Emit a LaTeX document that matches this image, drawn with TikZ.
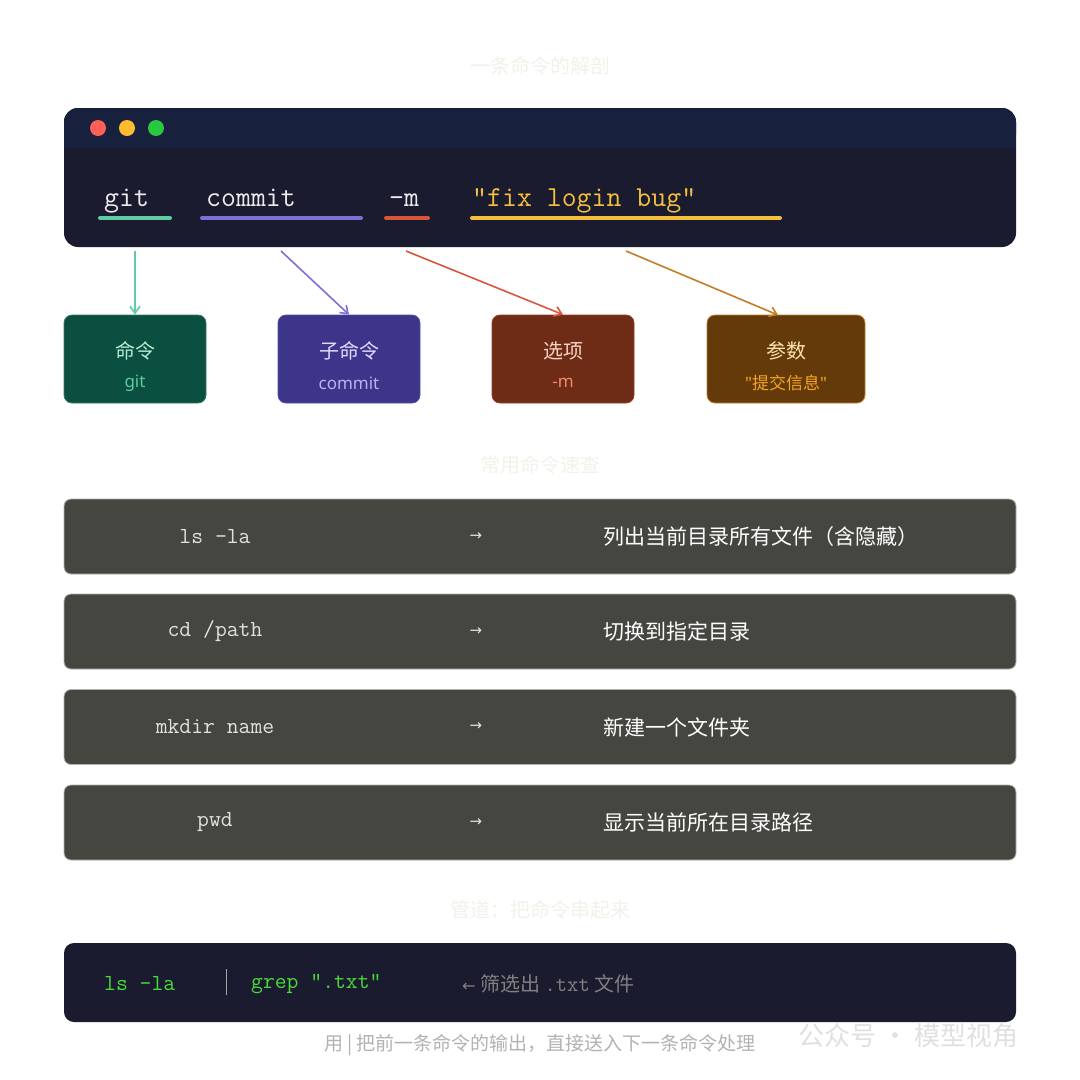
\documentclass[tikz,border=0pt]{standalone}
\usepackage{fontspec}
\setmainfont{Noto Sans CJK SC}
\newfontfamily\latinf{Noto Sans}
\newfontfamily\symf{DejaVu Sans}
\usetikzlibrary{arrows.meta}
\definecolor{termhead}{HTML}{17213D}
\definecolor{termbody}{HTML}{1B1B2F}
\definecolor{cg}{HTML}{5ECBA2}
\definecolor{cp}{HTML}{7B72D9}
\definecolor{cr}{HTML}{D9553A}
\definecolor{cy}{HTML}{F5BF3D}
\definecolor{cb}{HTML}{C47D28}
\definecolor{rowfill}{HTML}{464640}
\definecolor{faint}{HTML}{F2F2EA}
\definecolor{dotr}{HTML}{FE5F57}
\definecolor{doty}{HTML}{FEBC2E}
\definecolor{dotg}{HTML}{28C840}
\definecolor{f1}{HTML}{0A4F40}\definecolor{f2}{HTML}{3D358A}
\definecolor{f3}{HTML}{6E2B16}\definecolor{f4}{HTML}{653A0A}
\definecolor{t1c}{HTML}{B5ECD5}\definecolor{t2c}{HTML}{E0DCFF}
\definecolor{t3c}{HTML}{F9D4C6}\definecolor{t4c}{HTML}{FBE3B0}
\definecolor{s2c}{HTML}{B9B2F5}\definecolor{s3c}{HTML}{F08A6A}\definecolor{s4c}{HTML}{F5A623}
\definecolor{pgreen}{HTML}{4AD93A}
\tikzset{
  word/.style={font=\ttfamily\fontsize{29}{31}\selectfont, anchor=base west, inner sep=0},
  ul/.style={line width=4pt, line cap=round},
  conn/.style={line width=1.6pt, -{Straight Barb[length=7pt,width=10pt]}},
  cat/.style={rounded corners=8pt, minimum width=142pt, minimum height=88pt, line width=0.8pt},
  cattitle/.style={font=\fontsize{20}{22}\selectfont},
  catsub/.style={font=\fontsize{17}{19}\selectfont},
  row/.style={fill=rowfill, draw=black!30, rounded corners=7pt, line width=0.8pt},
  rowcmd/.style={font=\ttfamily\fontsize{23}{25}\selectfont, text=white!88!black},
  rowarr/.style={font=\symf\fontsize{15}{17}\selectfont, text=white!88!black},
  rowdesc/.style={font=\fontsize{21}{23}\selectfont, text=white, anchor=west},
  sectitle/.style={font=\fontsize{20}{22}\selectfont, text=faint}
}
\begin{document}
\begin{tikzpicture}[x=1pt,y=-1pt]
\useasboundingbox (0,0) rectangle (1080,1080);
\fill[white] (0,0) rectangle (1080,1080);
\node[sectitle] (t1) at (540,66) {一条命令的解剖};
% terminal
\fill[termbody, rounded corners=14pt] (64,108) rectangle (1016,247);
\fill[termhead, rounded corners=14pt] (64,108) rectangle (1016,148);
\fill[termhead] (64,130) rectangle (1016,148);
\fill[dotr] (98,128) circle (8pt);
\fill[doty] (127,128) circle (8pt);
\fill[dotg] (156,128) circle (8pt);
\node[word, text=white!92!black] (w1) at (104,206) {git};
\node[word, text=white!92!black] (w2) at (206,206) {commit};
\node[word, text=white!92!black] (w3) at (389,206) {-m};
\node[word, text=cy] (w4) at (472,206) {"fix login bug"};
\draw[ul, cg] (100,218) -- (170,218);
\draw[ul, cp] (202,218) -- (361,218);
\draw[ul, cr] (386,218) -- (428,218);
\draw[ul, cy] (472,218) -- (780,218);
\coordinate (s1) at (135,251); \coordinate (s2) at (281,251);
\coordinate (s3) at (406,251); \coordinate (s4) at (626,251);
% categories
\node[cat, fill=f1, draw=cg!60!black] (c1) at (135,359) {};
\node[cat, fill=f2, draw=cp!70!black] (c2) at (349,359) {};
\node[cat, fill=f3, draw=cr!70!black] (c3) at (563,359) {};
\node[cat, fill=f4, draw=cb, minimum width=158pt] (c4) at (786,359) {};
\node[cattitle, text=t1c] at (135,351) {命令};
\node[catsub, text=cg] at (135,383) {\latinf git};
\node[cattitle, text=t2c] at (349,351) {子命令};
\node[catsub, text=s2c] at (349,383) {\latinf commit};
\node[cattitle, text=t3c] at (563,351) {选项};
\node[catsub, text=s3c] at (563,383) {\latinf -m};
\node[cattitle, text=t4c] at (786,351) {参数};
\node[catsub, text=s4c] at (786,383) {{\latinf "}提交信息{\latinf "}};
\coordinate (e4) at (778,315);
\draw[conn, cg] (s1) -- (c1.north);
\draw[conn, cp] (s2) -- (c2.north);
\draw[conn, cr] (s3) -- (c3.north);
\draw[conn, cb] (s4) -- (e4);
% quick reference
\node[sectitle] (t2) at (540,465) {常用命令速查};
\foreach \y/\c/\d [count=\i] in {536.5/{ls -la}/列出当前目录所有文件（含隐藏）, 631.5/{cd /path}/切换到指定目录, 727/{mkdir name}/新建一个文件夹, 822.5/{pwd}/显示当前所在目录路径}{
  \draw[row] (64,\y-37.5) rectangle (1016,\y+37.5);
  \node[rowcmd] (rc\i) at (215,\y) {\c};
  \node[rowarr] (ra\i) at (476,\y) {→};
  \node[rowdesc] (rd\i) at (600,\y) {\d};
}
% pipe
\node[sectitle] (t3) at (540,910) {管道：把命令串起来};
\fill[termbody, rounded corners=10pt] (64,943) rectangle (1016,1022);
\node[font=\ttfamily\fontsize{23}{25}\selectfont, text=pgreen, anchor=west, inner sep=0] (p1) at (104,984) {ls -la};
\draw[gray!70, line width=0.8pt] (226,969) -- (226,995);
\node[font=\ttfamily\fontsize{23}{25}\selectfont, text=pgreen, anchor=west, inner sep=0] (p2) at (251,984) {grep ".txt"};
\node[font=\fontsize{20}{22}\selectfont, text=gray, anchor=west, inner sep=0] (p3) at (462,984) {{\symf\fontsize{16}{18}\selectfont ←} 筛选出 {\ttfamily\fontsize{22}{24}\selectfont .txt} 文件};
\node[font=\fontsize{19}{21}\selectfont, text=black!30] (foot) at (540,1045) {用 | 把前一条命令的输出，直接送入下一条命令处理};
\node[font=\fontsize{26}{28}\selectfont, text=black!12, anchor=west] (wm) at (795,1036) {公众号 · 模型视角};
\end{tikzpicture}
\end{document}
